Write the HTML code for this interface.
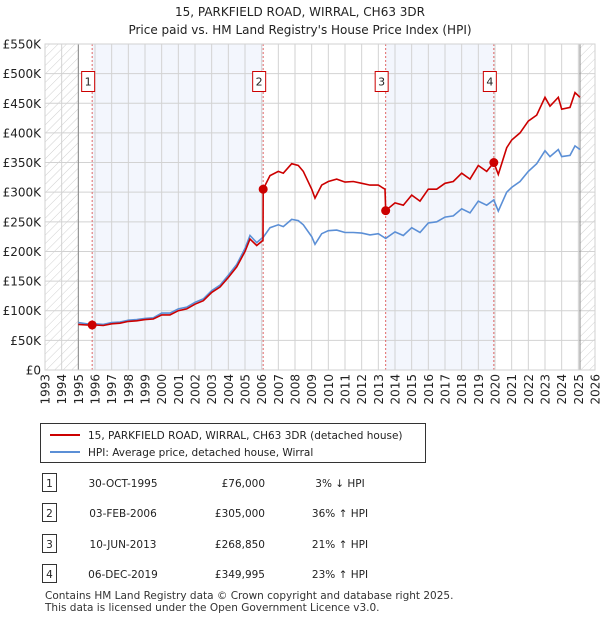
<!DOCTYPE html>
<html><head><meta charset="utf-8"><style>
body{margin:0;background:#fff;font-family:"DejaVu Sans","Liberation Sans",sans-serif;}
#wrap{position:relative;width:600px;height:620px;overflow:hidden;}
svg text{font-family:"DejaVu Sans","Liberation Sans",sans-serif;}
</style></head><body><div id="wrap">
<svg id="chart" width="600" height="620" style="position:absolute;left:0;top:0"></svg>
</div>
<script>
const years=[1993,1994,1995,1996,1997,1998,1999,2000,2001,2002,2003,2004,2005,2006,2007,2008,2009,2010,2011,2012,2013,2014,2015,2016,2017,2018,2019,2020,2021,2022,2023,2024,2025,2026];
const yTicks=[0,50,100,150,200,250,300,350,400,450,500,550];
const yTickLabels=["£0","£50K","£100K","£150K","£200K","£250K","£300K","£350K","£400K","£450K","£500K","£550K"];
const hpiT=[1995,1995.5,1996,1996.5,1997,1997.5,1998,1998.5,1999,1999.5,2000,2000.5,2001,2001.5,2002,2002.5,2003,2003.5,2004,2004.5,2005,2005.3,2005.7,2006,2006.1,2006.5,2007,2007.3,2007.8,2008.2,2008.5,2009,2009.2,2009.6,2010,2010.5,2011,2011.5,2012,2012.5,2013,2013.44,2014,2014.5,2015,2015.5,2016,2016.5,2017,2017.5,2018,2018.5,2019,2019.5,2019.93,2020.2,2020.7,2021,2021.5,2022,2022.5,2023,2023.3,2023.8,2024,2024.5,2024.8,2025.1];
const hpiV=[80,78,78,77,80,81,84,85,87,88,96,96,103,106,114,120,134,143,160,178,205,227,215,222,224,240,245,242,254,252,245,225,212,230,235,236,232,232,231,228,230,222,233,227,240,232,248,250,258,260,272,265,285,278,287,268,300,308,318,335,348,370,360,372,360,362,378,372];
const priceT=[1995,1995.5,1995.83,1996,1996.5,1997,1997.5,1998,1998.5,1999,1999.5,2000,2000.5,2001,2001.5,2002,2002.5,2003,2003.5,2004,2004.5,2005,2005.3,2005.7,2006,2006.08,2006.09,2006.5,2007,2007.3,2007.8,2008.2,2008.5,2009,2009.2,2009.6,2010,2010.5,2011,2011.5,2012,2012.5,2013,2013.4,2013.44,2014,2014.5,2015,2015.5,2016,2016.5,2017,2017.5,2018,2018.5,2019,2019.5,2019.93,2020.2,2020.7,2021,2021.5,2022,2022.5,2023,2023.3,2023.8,2024,2024.5,2024.8,2025.1];
const priceV=[77,76,76,76,75,78,79,82,83,85,86,93,93,100,103,111,117,131,140,156,174,200,221,210,217,219,305,328,335,332,348,345,335,305,290,312,318,322,317,318,315,312,312,305,268.85,282,278,295,285,305,305,315,318,332,322,345,335,350,330,375,388,400,420,430,460,445,460,440,443,468,460];
const saleT=[1995.83,2006.09,2013.44,2019.93];
const saleV=[76,305,268.85,349.995];
const saleLabels=["1","2","3","4"];
const saleDates=["30-OCT-1995","03-FEB-2006","10-JUN-2013","06-DEC-2019"];
const salePrices=["£76,000","£305,000","£268,850","£349,995"];
const saleHpi=["3% ↓ HPI","36% ↑ HPI","21% ↑ HPI","23% ↑ HPI"];

const NS="http://www.w3.org/2000/svg";
const svg=document.getElementById('chart');
const X0=45,X1=595,Y0=370,Y1=44;
const xs=t=>X0+(t-1993)*(X1-X0)/33;
const ys=v=>Y0-v*(Y0-Y1)/550;
function mk(tag,a,parent){const e=document.createElementNS(NS,tag);for(const k in a)e.setAttribute(k,a[k]);(parent||svg).appendChild(e);return e;}
const defs=mk('defs',{});
const pat=mk('pattern',{id:'hatch',width:6,height:6,patternUnits:'userSpaceOnUse',patternTransform:'rotate(45)'},defs);
mk('line',{x1:0,y1:0,x2:0,y2:6,stroke:'#d0d0d0','stroke-width':1},pat);
let e=mk('text',{x:300,y:16,'text-anchor':'middle','font-size':12,fill:'#222'});e.textContent="15, PARKFIELD ROAD, WIRRAL, CH63 3DR";

e=mk('text',{x:300,y:34,'text-anchor':'middle','font-size':12,fill:'#222'});e.textContent="Price paid vs. HM Land Registry's House Price Index (HPI)";

[[0,1],[2,3]].forEach(p=>{const r=mk('rect',{x:xs(saleT[p[0]]),y:Y1,width:xs(saleT[p[1]])-xs(saleT[p[0]]),height:Y0-Y1,fill:'#f3f6fd'});
});
e=mk('rect',{x:X0,y:Y1,width:xs(1995)-X0,height:Y0-Y1,fill:'url(#hatch)'});

e=mk('rect',{x:xs(2025.1),y:Y1,width:X1-xs(2025.1),height:Y0-Y1,fill:'url(#hatch)'});

years.forEach(y=>{const l=mk('line',{x1:xs(y),x2:xs(y),y1:Y1,y2:Y0,stroke:'#d2d2d2','stroke-width':1});

const t=mk('text',{x:0,y:0,'font-size':12,fill:'#222','text-anchor':'end',transform:`translate(${xs(y)+4.5},374) rotate(-90)`});t.textContent=y;
});
yTicks.forEach((v,i)=>{const l=mk('line',{x1:X0,x2:X1,y1:ys(v),y2:ys(v),stroke:'#d2d2d2','stroke-width':1});

const t=mk('text',{x:41,y:ys(v)+4.5,'font-size':12,fill:'#222','text-anchor':'end'});t.textContent=yTickLabels[i];
});
e=mk('line',{x1:xs(1995),x2:xs(1995),y1:Y1,y2:Y0,stroke:'#888'});
e=mk('line',{x1:xs(2025.1),x2:xs(2025.1),y1:Y1,y2:Y0,stroke:'#888'});
saleT.forEach((t,i)=>{const l=mk('line',{x1:xs(t),x2:xs(t),y1:Y1,y2:Y0,stroke:'#e06666','stroke-dasharray':'2,2','stroke-width':1});

const g=mk('g',{});
const cx=xs(t)-4;
mk('rect',{x:cx-6.5,y:71.5,width:13,height:20,fill:'#fff',stroke:'#c00'},g);
const tx=mk('text',{x:cx,y:85.5,'text-anchor':'middle','font-size':11,fill:'#222'},g);tx.textContent=saleLabels[i];});
const path=(T,V)=>T.map((t,i)=>(i?'L':'M')+xs(t).toFixed(1)+','+ys(V[i]).toFixed(1)).join('');
e=mk('path',{d:path(hpiT,hpiV),fill:'none',stroke:'#5b8fd6','stroke-width':1.6});

e=mk('path',{d:path(priceT,priceV),fill:'none',stroke:'#cc0000','stroke-width':1.6});

saleT.forEach((t,i)=>{const c=mk('circle',{cx:xs(t),cy:ys(saleV[i]),r:4.5,fill:'#cc0000'});
});
mk('rect',{x:X0,y:Y1,width:X1-X0,height:Y0-Y1,fill:'none',stroke:'#d2d2d2'});
const lg=mk('g',{});
mk('rect',{x:40.5,y:423.5,width:385,height:39,fill:'#fff',stroke:'#333'},lg);
mk('line',{x1:50,x2:80,y1:435,y2:435,stroke:'#cc0000','stroke-width':2},lg);
e=mk('text',{x:88,y:439,'font-size':10.5,fill:'#222'},lg);e.textContent="15, PARKFIELD ROAD, WIRRAL, CH63 3DR (detached house)";

mk('line',{x1:50,x2:80,y1:452,y2:452,stroke:'#5b8fd6','stroke-width':2},lg);
e=mk('text',{x:88,y:456,'font-size':10.5,fill:'#222'},lg);e.textContent="HPI: Average price, detached house, Wirral";

const rowY=[483,513,544,574];
rowY.forEach((y,i)=>{const g=mk('g',{});
mk('rect',{x:42.5,y:y-9.5,width:14,height:18,fill:'#fff',stroke:'#333'},g);
let t=mk('text',{x:49.5,y:y+4,'text-anchor':'middle','font-size':10.5,fill:'#222'},g);t.textContent=saleLabels[i];
t=mk('text',{x:123,y:y+4,'text-anchor':'middle','font-size':10.5,fill:'#222'},g);t.textContent=saleDates[i];
t=mk('text',{x:265,y:y+4,'text-anchor':'end','font-size':10.5,fill:'#222'},g);t.textContent=salePrices[i];
t=mk('text',{x:340,y:y+4,'text-anchor':'middle','font-size':10.5,fill:'#222'},g);t.textContent=saleHpi[i];});
e=mk('text',{x:45,y:599,'font-size':10.5,fill:'#333'});e.textContent="Contains HM Land Registry data © Crown copyright and database right 2025.";

e=mk('text',{x:45,y:611,'font-size':10.5,fill:'#333'});e.textContent="This data is licensed under the Open Government Licence v3.0.";

</script></body></html>
